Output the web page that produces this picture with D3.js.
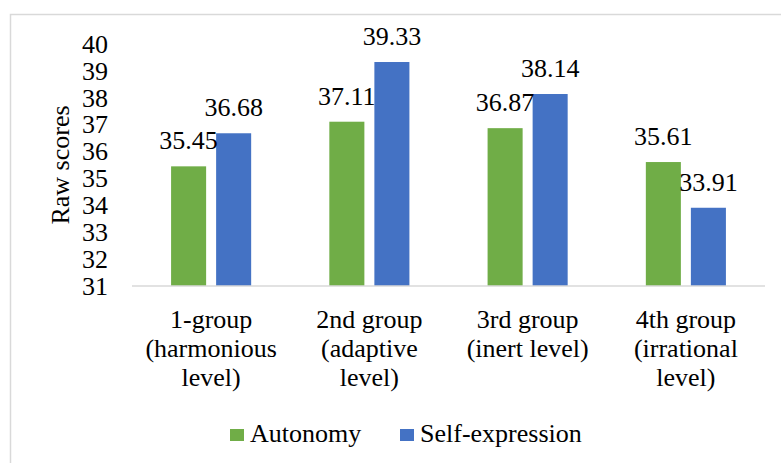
<!DOCTYPE html>
<html>
  <head>
    <meta charset='utf-8'>
    <script src='https://d3js.org/d3.v7.min.js'></script>
  </head>
<body style="margin:0">
  <script>
    // chart data
    var groups = [
      ['1-group', '(harmonious', 'level)'],
      ['2nd group', '(adaptive', 'level)'],
      ['3rd group', '(inert level)'],
      ['4th group', '(irrational', 'level)']
    ];
    var seriesNames = ['Autonomy', 'Self-expression'];
    var autonomy = [35.45, 37.11, 36.87, 35.61];
    var selfExpression = [36.68, 39.33, 38.14, 33.91];
    var yTicks = [31, 32, 33, 34, 35, 36, 37, 38, 39, 40];
    var colors = ['#70AD47', '#4472C4'];

    var WIDTH = 781, HEIGHT = 463;
    var FAMILY = "'Liberation Serif', 'Times New Roman', serif";

    var svg = d3.select('body')
      .append('svg')
      .attr('width', WIDTH)
      .attr('height', HEIGHT)
      .style('font-family', FAMILY)
      .style('font-size', '26px');

    // chart frame (only top and left edges fall inside the picture)
    svg.append('path')
      .attr('d', 'M10.5,' + HEIGHT + 'V14.5H' + WIDTH)
      .attr('fill', 'none')
      .attr('stroke', '#d9d9d9')
      .attr('stroke-width', 1.5);

    var plotLeft = 132, plotRight = 765, plotTop = 44, plotBottom = 286;

    var x0 = d3.scaleBand()
      .domain(d3.range(groups.length))
      .range([plotLeft, plotRight]);

    var bw = x0.bandwidth();
    var x1 = d3.scaleBand()
      .domain(seriesNames)
      .range([bw * 0.247, bw * 0.753])
      .paddingInner(0.222);

    var y = d3.scaleLinear()
      .domain([31, 40])
      .range([plotBottom, plotTop]);

    var rows = groups.map(function (g, i) {
      return [
        { s: seriesNames[0], v: autonomy[i], c: colors[0] },
        { s: seriesNames[1], v: selfExpression[i], c: colors[1] }
      ];
    });

    // bars
    var grp = svg.selectAll('.grp')
      .data(rows)
      .enter()
      .append('g')
      .attr('class', 'grp')
      .attr('transform', function (d, i) { return 'translate(' + x0(i) + ',0)'; });

    grp.selectAll('rect')
      .data(function (d) { return d; })
      .enter()
      .append('rect')
      .attr('x', function (d) { return x1(d.s); })
      .attr('width', x1.bandwidth())
      .attr('y', function (d) { return y(d.v); })
      .attr('height', function (d) { return y(31) - y(d.v); })
      .attr('fill', function (d) { return d.c; });

    // data labels
    grp.selectAll('.lbl')
      .data(function (d) { return d; })
      .enter()
      .append('text')
      .attr('class', 'lbl')
      .attr('x', function (d) { return x1(d.s) + x1.bandwidth() / 2; })
      .attr('y', function (d) { return y(d.v) - 17; })
      .attr('text-anchor', 'middle')
      .attr('font-family', FAMILY)
      .text(function (d) { return d.v.toFixed(2); });

    // x axis line
    svg.append('line')
      .attr('x1', plotLeft).attr('x2', plotRight)
      .attr('y1', y(31)).attr('y2', y(31))
      .attr('stroke', '#d9d9d9')
      .attr('stroke-width', 1.5);

    // y axis tick labels
    var ya = svg.append('g')
      .attr('transform', 'translate(108,0)')
      .call(d3.axisLeft(y).tickValues(yTicks).tickSize(0).tickPadding(0));
    ya.attr('font-family', FAMILY).attr('font-size', '26px');
    ya.select('.domain').remove();
    ya.selectAll('text')
      .attr('fill', '#000')
      .attr('font-family', FAMILY);

    // y axis title
    svg.append('text')
      .attr('transform', 'translate(69,165) rotate(-90)')
      .attr('text-anchor', 'middle')
      .attr('font-family', FAMILY)
      .text('Raw scores');

    // category labels
    var cat = svg.selectAll('.cat')
      .data(groups)
      .enter()
      .append('text')
      .attr('class', 'cat')
      .attr('text-anchor', 'middle')
      .attr('font-family', FAMILY)
      .attr('transform', function (d, i) { return 'translate(' + (x0(i) + bw / 2) + ',328)'; });

    cat.selectAll('tspan')
      .data(function (d) { return d; })
      .enter()
      .append('tspan')
      .attr('x', 0)
      .attr('y', function (d, i) { return i * 29; })
      .text(function (d) { return d; });

    // legend
    var legX = [230, 400];
    var leg = svg.selectAll('.leg')
      .data(seriesNames)
      .enter()
      .append('g')
      .attr('class', 'leg')
      .attr('transform', function (d, i) { return 'translate(' + legX[i] + ',0)'; });

    leg.append('rect')
      .attr('x', 0).attr('y', 429)
      .attr('width', 14).attr('height', 12)
      .attr('fill', function (d, i) { return colors[i]; });

    leg.append('text')
      .attr('x', 20).attr('y', 442)
      .attr('font-family', FAMILY)
      .text(function (d) { return d; });
  </script>
</body>
</html>
